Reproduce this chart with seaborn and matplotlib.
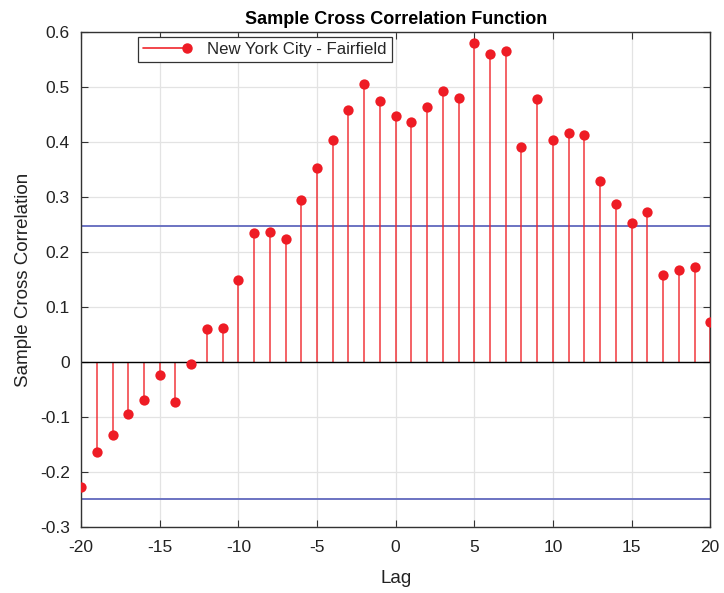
import matplotlib
matplotlib.use("Agg")
import matplotlib.pyplot as plt
import seaborn as sns
import numpy as np
import pandas as pd
from matplotlib.lines import Line2D
from matplotlib.legend_handler import HandlerBase

lags = list(range(-20, 21))
xcf = [-0.227, -0.164, -0.133, -0.095, -0.069, -0.024, -0.073, -0.004, 0.060, 0.062,
       0.149, 0.235, 0.236, 0.224, 0.295, 0.353, 0.404, 0.458, 0.505, 0.475,
       0.447, 0.436, 0.464, 0.493, 0.480, 0.580, 0.560, 0.565, 0.391, 0.478,
       0.404, 0.416, 0.413, 0.329, 0.287, 0.253, 0.273, 0.158, 0.167, 0.173,
       0.073]
bound = 0.248
x_ticks = [-20, -15, -10, -5, 0, 5, 10, 15, 20]
y_ticks = [-0.3, -0.2, -0.1, 0, 0.1, 0.2, 0.3, 0.4, 0.5, 0.6]
series_name = "New York City - Fairfield"

df = pd.DataFrame({"Lag": lags, "XCF": xcf})

sns.set_theme(style="whitegrid")
plt.rcParams['font.family'] = ['Liberation Sans', 'DejaVu Sans']

fig = plt.figure(figsize=(7.24, 5.93), dpi=100)
ax = fig.add_axes([0.112, 0.111, 0.869, 0.835])

stem_color = "#f0262c"
marker_color = "#ee1c25"
ax.vlines(df["Lag"], 0, df["XCF"], color=stem_color, lw=1.2, alpha=0.85, zorder=2)
sns.scatterplot(data=df, x="Lag", y="XCF", ax=ax, color=marker_color, s=55,
                edgecolor=marker_color, linewidth=0, zorder=3, legend=False)
ax.axhline(0, color="black", lw=1.0, zorder=2.5)
ax.axhline(bound, color="#6b73c2", lw=1.4, zorder=1.5)
ax.axhline(-bound, color="#6b73c2", lw=1.4, zorder=1.5)

ax.set_xlim(-20, 20)
ax.set_ylim(-0.3, 0.6)
ax.set_xticks(x_ticks)
ax.set_yticks(y_ticks)
ax.set_xticklabels([str(t) for t in x_ticks])
ax.set_yticklabels(["0" if t == 0 else f"{t:g}" for t in y_ticks])
ax.grid(True, color="#e3e3e3", lw=0.9)
ax.set_facecolor("white")
for s in ax.spines.values():
    s.set_visible(True)
    s.set_color("#333333")
    s.set_linewidth(1.0)
ax.tick_params(axis="both", direction="in", length=5, width=0.8, colors="#333333",
               labelsize=12.5, labelcolor="#222222", top=True, right=True,
               bottom=True, left=True)
ax.tick_params(axis="x", pad=9)
ax.tick_params(axis="y", pad=8)
ax.set_xlabel("Lag", fontsize=13.5, color="#222222", labelpad=11)
ax.set_ylabel("Sample Cross Correlation", fontsize=13.5, color="#222222", labelpad=6)
ax.set_title("Sample Cross Correlation Function", fontsize=13, fontweight="bold",
             color="black", pad=6)


class EndMarkerHandler(HandlerBase):
    def create_artists(self, legend, orig_handle, xdescent, ydescent, width,
                       height, fontsize, trans):
        y = height / 2 - ydescent
        x0, x1 = -xdescent, -xdescent + width
        line = Line2D([x0, x1], [y, y], color=stem_color, lw=1.2)
        mk = Line2D([x1], [y], marker="o", ls="none", markersize=6.5,
                    markerfacecolor=marker_color, markeredgecolor=marker_color)
        line.set_transform(trans)
        mk.set_transform(trans)
        return [line, mk]


handle = Line2D([0], [0], color=stem_color, lw=1.2, marker="o")
leg = ax.legend([handle], [series_name], loc="upper left",
                bbox_to_anchor=(0.0906, 0.99), fontsize=12.1, frameon=True,
                fancybox=False, edgecolor="#333333", framealpha=1,
                handlelength=2.6, handletextpad=1.2, borderpad=0.3,
                borderaxespad=0.0,
                handler_map={Line2D: EndMarkerHandler()})
leg.get_frame().set_linewidth(0.9)

fig.savefig("out.png", dpi=100, facecolor="white")
